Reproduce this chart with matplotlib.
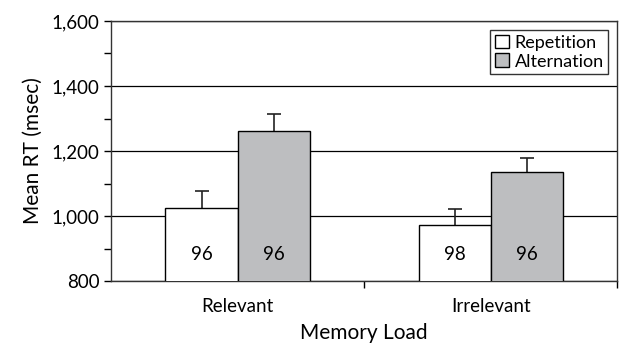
import matplotlib.pyplot as plt
import numpy as np

plt.rcParams['font.family'] = ['Lato', 'DejaVu Sans']

loads = ['Relevant', 'Irrelevant']
repetition = [1026, 973]
alternation = [1263, 1135]
rep_err = [50, 49]
alt_err = [50, 45]
rep_n = [96, 98]
alt_n = [96, 96]

fig, ax = plt.subplots(figsize=(6.24, 3.44), dpi=100)
fig.subplots_adjust(left=0.178, right=0.989, top=0.939, bottom=0.183)

x = np.arange(len(loads))
w = 0.285
ax.set_axisbelow(True)
ax.yaxis.grid(True, color='black', lw=0.9)
ax.bar(x - w/2, repetition, w, color='white', edgecolor='black',
       lw=1.0, label='Repetition', zorder=3)
ax.bar(x + w/2, alternation, w, color='#bdbec0', edgecolor='black',
       lw=1.0, label='Alternation', zorder=3)

# only the upper half of each error bar
for xs, ys, errs in [(x - w/2, repetition, rep_err), (x + w/2, alternation, alt_err)]:
    eb = ax.errorbar(xs, ys, yerr=[np.zeros(2), errs], fmt='none',
                     ecolor='#222222', elinewidth=1.2, capsize=5, capthick=1.2, zorder=2)
    eb[1][0].set_visible(False)

for xi, n in zip(x - w/2, rep_n):
    ax.text(xi, 883, str(n), ha='center', va='center', fontsize=13.5, zorder=4)
for xi, n in zip(x + w/2, alt_n):
    ax.text(xi, 883, str(n), ha='center', va='center', fontsize=13.5, zorder=4)

ax.set_ylim(800, 1600)
ax.set_xlim(-0.5, 1.5)
ax.set_yticks(np.arange(800, 1601, 200))
ax.set_yticks(np.arange(900, 1600, 200), minor=True)
ax.set_yticklabels(['{:,}'.format(v) for v in range(800, 1601, 200)])
ax.set_xticks([0.5, 1.5])
ax.set_xticklabels(['', ''])
ax.set_xticks(x, minor=True)
ax.set_xticklabels(loads, minor=True)
ax.tick_params(axis='x', which='minor', length=0, labelsize=13.5, pad=12)
ax.tick_params(axis='x', which='major', length=5, width=1.0)
ax.tick_params(axis='y', which='both', length=5, width=1.0, labelsize=13.5)
for s in ax.spines.values():
    s.set_linewidth(1.0)
    s.set_color('#333333')

ax.set_ylabel('Mean RT (msec)', fontsize=15, labelpad=6)
ax.set_xlabel('Memory Load', fontsize=15, labelpad=6)

leg = ax.legend(loc='upper right', fontsize=13, frameon=True, fancybox=False,
                handlelength=0.8, handleheight=0.8, handletextpad=0.3,
                borderpad=0.25, labelspacing=0.15, borderaxespad=0.5)
leg.get_frame().set_edgecolor('black')
leg.get_frame().set_linewidth(1.0)

fig.savefig('out.png', dpi=100)
